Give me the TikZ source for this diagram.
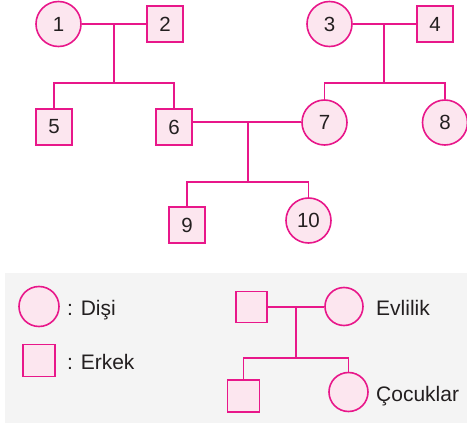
\documentclass[tikz,border=0pt]{standalone}
\usepackage{fontspec}
\setmainfont{Liberation Sans}
\definecolor{pinkline}{HTML}{E8178A}
\definecolor{pinkfill}{HTML}{FCE6EF}
\definecolor{legendbg}{HTML}{F4F4F4}
\definecolor{txt}{HTML}{231F20}
\begin{document}
\begin{tikzpicture}[x=1pt,y=-1pt,
  female/.style={circle,draw=pinkline,fill=pinkfill,line width=1.6pt,minimum size=#1,inner sep=0pt,text=txt,font=\fontsize{20.5}{22}\selectfont},
  female/.default=45pt,
  male/.style={rectangle,draw=pinkline,fill=pinkfill,line width=1.6pt,minimum size=#1,inner sep=0pt,text=txt,font=\fontsize{20.5}{22}\selectfont},
  male/.default=36pt,
  link/.style={draw=pinkline,line width=1.4pt},
  label/.style={anchor=base west,inner sep=0pt,text=txt,font=\fontsize{21}{23}\selectfont}]
\useasboundingbox (0,0) rectangle (467,423);
% legend background
\fill[legendbg] (5,273) rectangle (467,423);

% first generation
\node[female] (n1) at (58.5,24) {1};
\node[male]   (n2) at (165,24) {2};
\node[female] (n3) at (329.5,24) {3};
\node[male]   (n4) at (435,24) {4};
% second generation
\node[male]   (n5) at (54,127) {5};
\node[male]   (n6) at (174,127) {6};
\node[female] (n7) at (324.5,122.5) {7};
\node[female] (n8) at (445,122.5) {8};
% third generation
\node[male]   (n9) at (187,225) {9};
\node[female] (n10) at (308.5,220.5) {10};

% marriage 1-2 and children 5,6
\coordinate (m12) at (114,24);
\coordinate (c12) at (114,83);
\draw[link] (n1) -- (n2);
\draw[link] (m12) -- (c12);
\draw[link] (n5.north) |- (c12) -| (n6.north);
% marriage 3-4 and children 7,8
\coordinate (m34) at (384,24);
\coordinate (c34) at (384,83);
\draw[link] (n3) -- (n4);
\draw[link] (m34) -- (c34);
\draw[link] (n7.north) |- (c34) -| (n8.north);
% marriage 6-7 and children 9,10
\coordinate (m67) at (248,122);
\coordinate (c67) at (248,182);
\draw[link] (n6.east |- m67) -- (n7.west |- m67);
\draw[link] (m67) -- (c67);
\draw[link] (n9.north) |- (c67) -| (n10.north);

% legend
\node[female=40pt] (lf) at (39,306.5) {};
\node[label] (lft) at (67,315) {: Dişi};
\node[male=32pt] (lm) at (39,360.5) {};
\node[label] (lmt) at (67,369) {: Erkek};

\node[male=31pt] (ea) at (251.5,307) {};
\node[female=38pt] (eb) at (344,306.5) {};
\node[male=32pt] (ec) at (243.5,396) {};
\node[female=39pt] (ed) at (348.5,392) {};
\coordinate (em) at (296,307);
\coordinate (ek) at (296,358);
\draw[link] (ea.east |- em) -- (eb.west |- em);
\draw[link] (em) -- (ek);
\draw[link] (ec.north) |- (ek) -| (ed.north);
\node[label] (evl) at (376,315) {Evlilik};
\node[label] (coc) at (376,401) {Çocuklar};
\end{tikzpicture}
\end{document}
